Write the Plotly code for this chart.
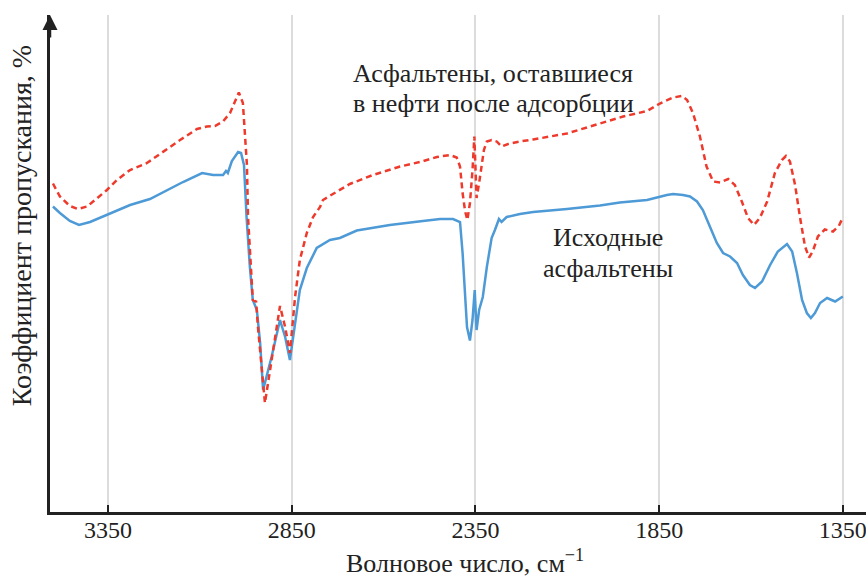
import plotly.graph_objects as go

# IR transmission spectra of asphaltenes (arbitrary transmittance units)
wn_initial = [3500, 3481, 3454, 3429, 3399, 3353, 3290, 3236, 3190, 3146, 3094, 3064, 3037, 3029, 3024,
              3013, 2996, 2988, 2980, 2973, 2964, 2956, 2945, 2936, 2928, 2905, 2882, 2868, 2855, 2841,
              2828, 2809, 2782, 2746, 2719, 2673, 2583, 2493, 2446, 2411, 2397, 2392, 2385, 2378, 2373,
              2365, 2358, 2352, 2347, 2340, 2330, 2319, 2306, 2297, 2286, 2279, 2265, 2229, 2193, 2101,
              2011, 1957, 1883, 1829, 1812, 1785, 1766, 1747, 1731, 1712, 1693, 1676, 1657, 1638, 1622,
              1603, 1589, 1570, 1548, 1527, 1502, 1488, 1475, 1461, 1448, 1437, 1426, 1412, 1393, 1371, 1350]
t_initial = [61.1, 59.8, 58.2, 57.4, 58.0, 59.4, 61.4, 62.6, 64.4, 66.0, 67.8, 67.4, 67.4, 68.2, 67.8,
             70.2, 72.0, 71.8, 69.4, 59.0, 49.0, 42.4, 40.4, 33.8, 24.4, 31.0, 38.4, 35.0, 30.4, 37.8,
             44.4, 48.8, 52.8, 54.4, 54.8, 56.3, 57.4, 58.2, 58.6, 58.6, 58.2, 58.0, 51.8, 43.8, 37.0,
             34.3, 38.4, 44.4, 36.4, 40.4, 43.0, 49.0, 54.8, 56.4, 58.6, 58.0, 59.0, 59.6, 60.0, 60.6,
             61.3, 61.9, 62.4, 63.4, 63.6, 63.4, 63.1, 62.1, 60.4, 57.1, 53.8, 51.8, 51.1, 49.8, 47.4,
             45.4, 44.8, 46.1, 49.4, 52.1, 53.6, 52.1, 47.8, 42.4, 39.8, 38.8, 39.8, 41.8, 42.8, 42.1, 43.1]

wn_remaining = [3500, 3481, 3454, 3432, 3407, 3380, 3353, 3326, 3290, 3244, 3200, 3154, 3108, 3081, 3059,
                3037, 3018, 3004, 2994, 2983, 2977, 2972, 2969, 2962, 2956, 2947, 2942, 2932, 2923, 2909,
                2896, 2882, 2868, 2855, 2841, 2828, 2809, 2792, 2773, 2765, 2738, 2692, 2629, 2555, 2501,
                2455, 2419, 2401, 2392, 2385, 2378, 2372, 2365, 2358, 2353, 2350, 2347, 2340, 2333, 2327,
                2319, 2306, 2292, 2279, 2261, 2229, 2193, 2101, 2011, 1948, 1883, 1848, 1812, 1788, 1774,
                1758, 1739, 1721, 1703, 1684, 1662, 1644, 1625, 1608, 1592, 1576, 1556, 1535, 1516, 1505,
                1494, 1480, 1467, 1453, 1442, 1432, 1418, 1399, 1377, 1361, 1350]
t_remaining = [65.7, 63.1, 61.2, 60.6, 61.1, 62.8, 64.4, 66.4, 68.4, 69.8, 72.1, 74.4, 76.6, 77.1, 77.2,
               78.1, 79.8, 82.4, 83.9, 81.8, 74.4, 69.4, 59.0, 49.0, 42.4, 42.1, 37.0, 29.0, 21.8, 28.4,
               35.0, 41.2, 37.0, 31.8, 43.0, 50.4, 55.8, 59.0, 61.0, 62.4, 63.6, 65.6, 67.4, 69.1, 70.0,
               71.0, 71.4, 70.9, 69.1, 63.8, 60.1, 58.4, 61.8, 68.4, 75.1, 70.4, 62.8, 65.8, 69.8, 72.4,
               74.1, 74.4, 74.1, 73.1, 73.6, 74.1, 74.5, 75.7, 77.7, 79.1, 80.2, 81.7, 82.9, 83.2, 82.4,
               79.8, 75.1, 69.1, 66.1, 65.9, 66.6, 65.4, 62.1, 58.8, 57.4, 58.8, 62.1, 67.8, 70.4, 71.2,
               70.1, 65.4, 59.1, 53.1, 50.9, 52.1, 55.1, 56.5, 56.1, 57.2, 58.9]

tick_vals = [3350, 2850, 2350, 1850, 1350]
tick_text = ["3350", "2850", "2350", "1850", "1350"]

label_remaining = ["Асфальтены, оставшиеся", "в нефти после адсорбции"]
label_initial = ["Исходные", "асфальтены"]
x_title = "Волновое число, см<sup>−1</sup>"
y_title = "Коэффициент пропускания, %"

SERIF = "Liberation Serif, Times New Roman, serif"
INK = "#222222"

fig = go.Figure()
fig.add_trace(go.Scatter(x=wn_initial, y=t_initial, mode="lines",
                         line=dict(color="#4d9ad6", width=2.5), showlegend=False))
fig.add_trace(go.Scatter(x=wn_remaining, y=t_remaining, mode="lines",
                         line=dict(color="#ee3a2c", width=2.5, dash="6px,4px"), showlegend=False))

fig.update_layout(
    width=866, height=579,
    margin=dict(l=50, r=0, t=15, b=67),
    paper_bgcolor="white", plot_bgcolor="white",
    font=dict(family=SERIF, color=INK, size=24),
    xaxis=dict(range=[3508, 1287], tickvals=tick_vals, ticktext=tick_text,
               showgrid=True, gridcolor="#dcdcdc", gridwidth=1.5,
               showline=True, linecolor=INK, linewidth=2.5,
               ticks="inside", ticklen=7, tickwidth=2, tickcolor=INK,
               ticklabeloverflow="allow", ticklabelstandoff=-6,
               tickfont=dict(family=SERIF, size=24, color=INK), zeroline=False),
    yaxis=dict(range=[0, 99.4], showgrid=False, showticklabels=False, ticks="",
               showline=True, linecolor=INK, linewidth=2.5, zeroline=False),
)

# arrowhead on the vertical axis
fig.add_annotation(x=0, y=1, xref="paper", yref="paper", text="", showarrow=True,
                   ax=0, ay=24, axref="pixel", ayref="pixel",
                   arrowhead=2, arrowsize=1.2, arrowwidth=2.5, arrowcolor=INK)

# curve labels, one annotation per line
for txt, yv in zip(label_remaining, [87.8, 81.8]):
    fig.add_annotation(x=2302, y=yv, text=txt, showarrow=False,
                       font=dict(family=SERIF, size=26, color=INK))
for txt, yv in zip(label_initial, [55.0, 48.8]):
    fig.add_annotation(x=1989, y=yv, text=txt, showarrow=False,
                       font=dict(family=SERIF, size=26, color=INK))

fig.add_annotation(x=-0.057, y=0.577, xref="paper", yref="paper", text=y_title, showarrow=False,
                   textangle=-90, font=dict(family=SERIF, size=28, color=INK))
fig.add_annotation(x=0.509, y=-0.1, xref="paper", yref="paper", text=x_title, showarrow=False,
                   yanchor="middle", font=dict(family=SERIF, size=26, color=INK))

fig.write_html("out.html")
